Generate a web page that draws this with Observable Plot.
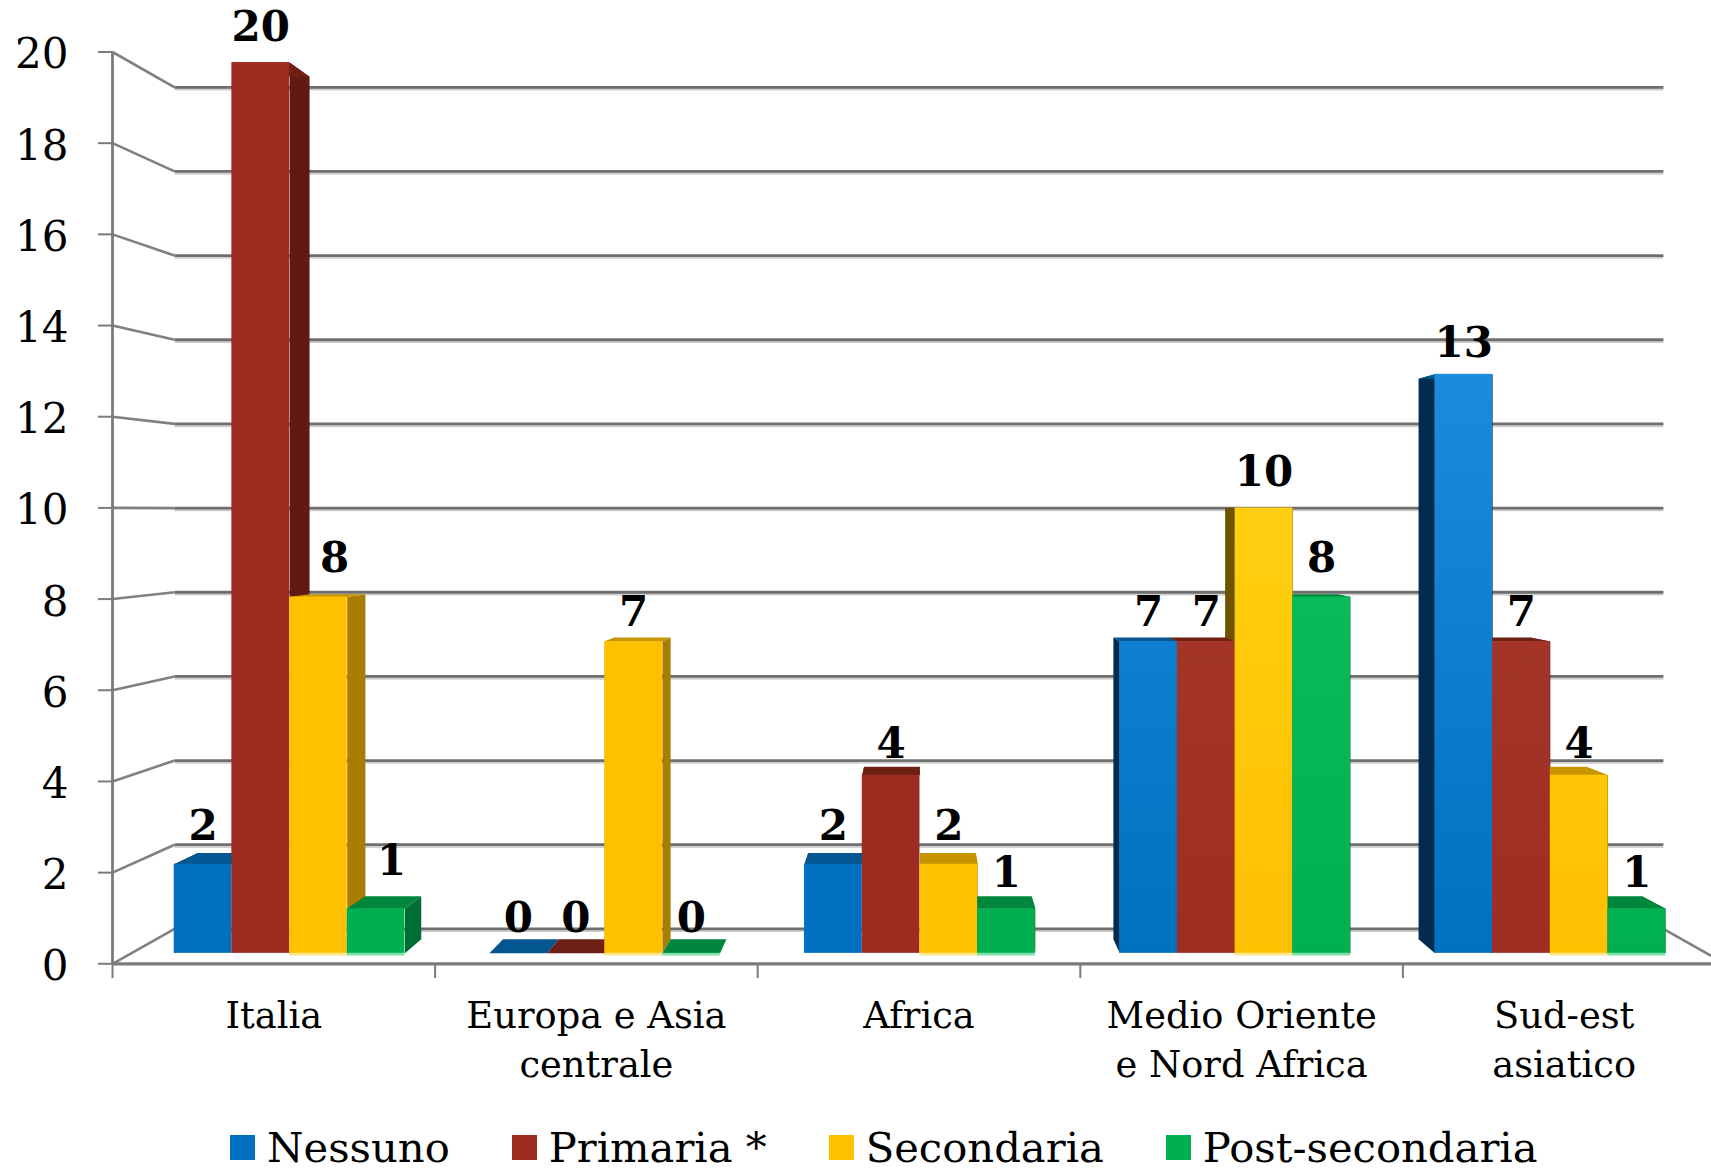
<!DOCTYPE html>
<html lang="it">
<head>
<meta charset="utf-8">
<title>Livello di istruzione per area di provenienza</title>
<script src="https://cdn.jsdelivr.net/npm/d3@7"></script>
<script src="https://cdn.jsdelivr.net/npm/@observablehq/plot@0.6"></script>
<style>
  html, body { margin: 0; background: #fff; overflow: hidden; }
  #legend {
    display: flex; gap: 62px; margin-left: 230px; height: 44px; align-items: center;
    font: 41.7px "DejaVu Serif", serif; color: #000; white-space: nowrap;
  }
  #legend span.item { display: inline-flex; align-items: center; gap: 12px; }
  #legend i { width: 25px; height: 25px; display: inline-block; }
</style>
</head>
<body>
<div id="chart"></div>
<div id="legend"></div>
<script>
// Chart values
const categories = ["Italia", "Europa e Asia\ncentrale", "Africa", "Medio Oriente\ne Nord Africa", "Sud-est\nasiatico"];
const seriesNames = ["Nessuno", "Primaria *", "Secondaria", "Post-secondaria"];
const nessuno = [2, 0, 2, 7, 13];
const primaria = [20, 0, 4, 7, 7];
const secondaria = [8, 7, 2, 10, 4];
const postSecondaria = [1, 0, 1, 8, 1];
const seriesValues = [nessuno, primaria, secondaria, postSecondaria];
const yTicks = d3.range(0, 21, 2);

// Face colours per series
const frontColors = ["#0070c0", "#9c2d20", "#ffc000", "#00b050"];
const litColors = ["#1c8ade", "#a93a2e", "#ffd316", "#0fc160"];
const topColors = ["#03568f", "#6f2015", "#c69500", "#00873d"];
const rightSideColors = ["#022c4f", "#611a12", "#a87d00", "#006e34"];
const leftSideColors = ["#022c4f", "#611a12", "#6f5300", "#006e34"];
const baseColors = ["#0070c0", "#9c2d20", "#ffe48a", "#7fe0a8"];
const ids = ["blue", "red", "yellow", "green"];

// Perspective: depth 1 is the axis plane; smaller depths recede to the vanishing point
const vanishX = 2.5, vanishV = 9.95;
const depthWall = 0.923, depthBarFront = 0.977, depthBarBack = 0.946;
const px = (X, d) => vanishX + (X - vanishX) * d;
const pv = (v, d) => vanishV + (v - vanishV) * d;

// Bar geometry in category units
const barWidth = 0.183, groupPad = 0.137;
const litGroups = [3, 4];

const bars = categories.flatMap((_, g) => seriesValues.map((vals, s) => {
  const left = g + groupPad + s * barWidth;
  return {g, s, v: vals[g], left, right: left + barWidth};
}));

const polygon = (id, fill, corners) => corners.map(([X, v, d]) => ({id, fill, x: px(X, d), y: pv(v, d)}));
const sideFaces = bars.flatMap((b) => [
  ...polygon(`l${b.g}${b.s}`, leftSideColors[b.s], [[b.left, 0, depthBarFront], [b.left, b.v, depthBarFront], [b.left, b.v, depthBarBack], [b.left, 0, depthBarBack]]),
  ...polygon(`r${b.g}${b.s}`, rightSideColors[b.s], [[b.right, 0, depthBarFront], [b.right, b.v, depthBarFront], [b.right, b.v, depthBarBack], [b.right, 0, depthBarBack]])
]);
const topFaces = bars.flatMap((b) =>
  polygon(`t${b.g}${b.s}`, topColors[b.s], [[b.left, b.v, depthBarFront], [b.right, b.v, depthBarFront], [b.right, b.v, depthBarBack], [b.left, b.v, depthBarBack]])
);
const fronts = bars.map((b) => ({
  x1: px(b.left, depthBarFront), x2: px(b.right, depthBarFront),
  y1: pv(0, depthBarFront), y2: pv(b.v, depthBarFront),
  fill: litGroups.includes(b.g) ? `url(#lit-${ids[b.s]})` : frontColors[b.s]
}));
const bases = bars.filter((b) => b.s >= 2).map((b) => ({
  x1: px(b.left, depthBarFront), x2: px(b.right, depthBarFront),
  y1: pv(-0.06, depthBarFront), y2: pv(0, depthBarFront), fill: baseColors[b.s]
}));

// Labels sit above each bar's front edge; two in the first group were moved aside by hand
const labelNudge = {"0-2": [0.05, 0], "0-3": [0.048, 0.26]};
// Vertical seat of each label, tuned to the digits it contains
const digitSeat = {"7": -0.13, "4": -0.09, "13": -0.09, "8": 0.07, "2": 0.07};
const labels = bars.map((b) => {
  const [nx, nv] = labelNudge[`${b.g}-${b.s}`] || [0, 0];
  const text = String(b.v);
  return {x: px((b.left + b.right) / 2, depthBarFront) + nx, y: pv(b.v, depthBarFront) + nv + (digitSeat[text] || 0), text};
});

// Back wall gridlines and the side-wall diagonals leading to the axis plane
const wallLines = yTicks.map((v) => ({x1: px(0, depthWall), x2: px(5, depthWall), y1: pv(v, depthWall), y2: pv(v, depthWall)}));
const leftDiagonals = yTicks.map((v) => ({x1: 0, y1: v, x2: px(0, depthWall), y2: pv(v, depthWall)}));
const rightDiagonal = [{x1: px(5, depthWall), y1: pv(0, depthWall), x2: 5, y2: 0}];

// Vertical light falloff on the right-hand groups
const gradients = (_, {y}) => {
  const defs = d3.create("svg:defs");
  ids.forEach((id, s) => {
    const g = defs.append("linearGradient").attr("id", `lit-${id}`)
      .attr("gradientUnits", "userSpaceOnUse")
      .attr("x1", 0).attr("x2", 0).attr("y1", y(13)).attr("y2", y(0));
    g.append("stop").attr("offset", 0).attr("stop-color", litColors[s]);
    g.append("stop").attr("offset", 1).attr("stop-color", frontColors[s]);
  });
  return defs.node();
};

const serif = '"DejaVu Serif", serif';
const gridGray = "#6f6f6f";

const chart = Plot.plot({
  width: 1711,
  height: 1125,
  marginLeft: 112,
  marginRight: 0,
  marginTop: 0,
  marginBottom: 161,
  x: {domain: [0, 5], range: [112, 1725], axis: null},
  y: {domain: [0, 20], range: [963.3, 51.5], axis: null},
  style: {background: "#fff", color: "#000"},
  marks: [
    gradients,
    // walls
    Plot.link(wallLines, {x1: "x1", x2: "x2", y1: "y1", y2: "y2", stroke: "#cfcfcf", strokeWidth: 2.5, dy: 2}),
    Plot.link(wallLines, {x1: "x1", x2: "x2", y1: "y1", y2: "y2", stroke: gridGray, strokeWidth: 2.8}),
    Plot.link(leftDiagonals, {x1: "x1", x2: "x2", y1: "y1", y2: "y2", stroke: "#808080", strokeWidth: 2.6}),
    Plot.link(rightDiagonal, {x1: "x1", x2: "x2", y1: "y1", y2: "y2", stroke: "#808080", strokeWidth: 2.6}),
    // axes
    Plot.ruleX([0], {y1: 0, y2: 20, stroke: "#7b7b7b", strokeWidth: 2.8}),
    Plot.ruleY([0], {x1: 0, x2: 5, stroke: "#7b7b7b", strokeWidth: 3.2}),
    Plot.axisY({anchor: "left", ticks: yTicks, tickSize: 14, tickFormat: () => "", label: null, stroke: "#7b7b7b", strokeWidth: 2}),
    Plot.axisY({anchor: "left", ticks: yTicks, tickSize: 0, tickPadding: 44, dy: 3, tickFormat: (d) => String(d),
      label: null, fill: "#000", fontSize: 42, fontFamily: serif}),
    Plot.axisX({anchor: "bottom", ticks: d3.range(0, 6), tickSize: 14, tickFormat: () => "", label: null, stroke: "#7b7b7b", strokeWidth: 2}),
    Plot.axisX({anchor: "bottom", ticks: categories.map((_, i) => i + 0.5), tickSize: 0, tickPadding: 28,
      tickFormat: (d) => categories[d - 0.5], label: null, fill: "#000", fontSize: 36.8, lineHeight: 1.345, fontFamily: serif}),
    // bars: sides, then tops, then fronts
    Plot.line(sideFaces, {x: "x", y: "y", z: "id", fill: {value: "fill", scale: null}, stroke: "none", curve: "linear"}),
    Plot.line(topFaces, {x: "x", y: "y", z: "id", fill: {value: "fill", scale: null}, stroke: "none", curve: "linear"}),
    Plot.rect(bases, {x1: "x1", x2: "x2", y1: "y1", y2: "y2", fill: {value: "fill", scale: null}}),
    Plot.rect(fronts, {x1: "x1", x2: "x2", y1: "y1", y2: "y2", fill: {value: "fill", scale: null}}),
    // value labels
    Plot.text(labels, {x: "x", y: "y", text: "text", dy: -35, fontSize: 42, fontWeight: "bold", fontFamily: serif, fill: "#000"})
  ]
});
document.getElementById("chart").append(chart);

// Legend row under the plot
const legend = d3.select("#legend");
seriesNames.forEach((name, s) => {
  const item = legend.append("span").attr("class", "item");
  item.append("i").style("background", frontColors[s]);
  item.append("span").text(name);
});
</script>
</body>
</html>
